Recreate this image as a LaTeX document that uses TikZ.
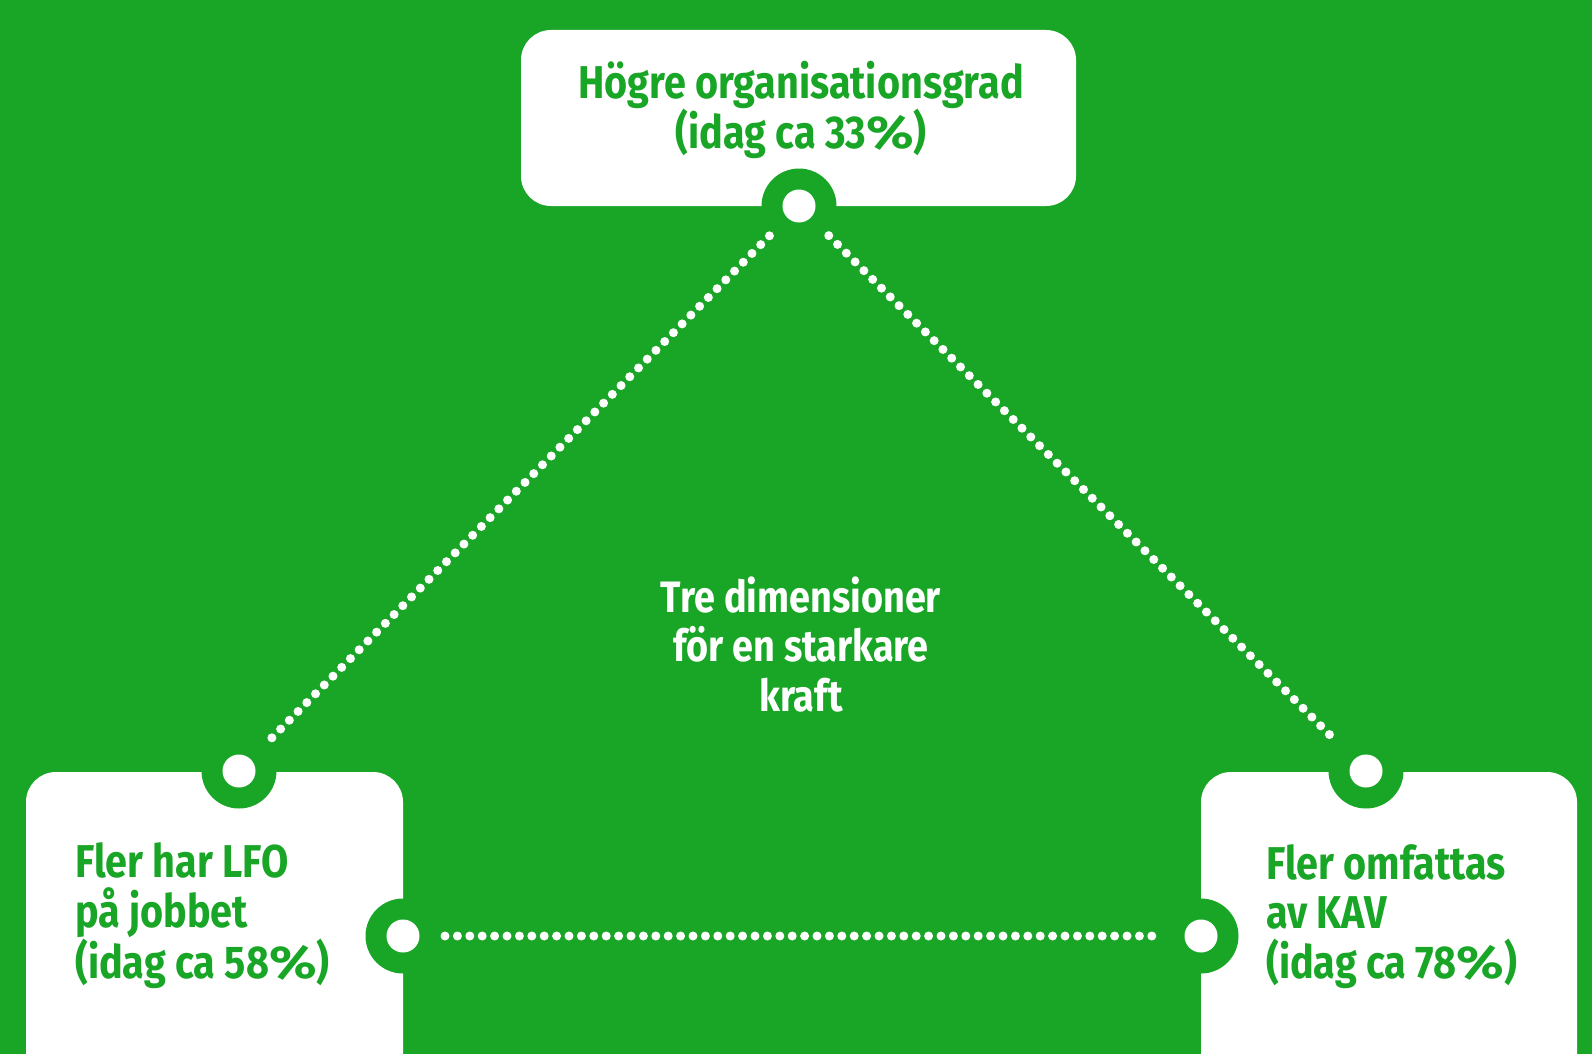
\documentclass[tikz,border=0pt]{standalone}
\usepackage{graphicx}
\usepackage{fontspec}
\newfontfamily\boxfont[FakeStretch=0.86]{Fira Sans Bold}
\newfontfamily\midfont[FakeStretch=0.86]{Fira Sans Bold}
\definecolor{lgreen}{RGB}{25,165,38}
\newcommand{\wpct}{\scalebox{1.4}[1]{\%}}
\begin{document}
\begin{tikzpicture}[x=1pt,y=-1pt,
  card/.style={fill=white, rounded corners=30pt, inner sep=0pt, draw=none},
  ring/.style={fill=lgreen, circle, minimum size=75pt, inner sep=0pt},
  hole/.style={fill=white, circle, minimum size=33pt, inner sep=0pt},
  boxtext/.style={text=lgreen, font=\boxfont\fontsize{46}{49.5}\selectfont, inner sep=0pt},
  midtext/.style={text=white, font=\midfont\fontsize{44}{49.5}\selectfont, inner sep=0pt, align=center},
  dots/.style={white, line width=9pt, line cap=round, dash pattern=on 0pt off 12.4pt, shorten <=42pt, shorten >=42pt}]
\useasboundingbox (0,0) rectangle (1592,1054);
\clip (0,0) rectangle (1592,1054);
\fill[lgreen] (0,0) rectangle (1592,1054);
% cards
\node[card, minimum width=555pt, minimum height=176pt] (top) at (798.5,118) {};
\node[card, minimum width=377pt, minimum height=330pt] (left) at (214.5,937) {};
\node[card, minimum width=376pt, minimum height=330pt] (right) at (1389,937) {};
% ring centres
\coordinate (rt) at (799,206);
\coordinate (rl1) at (239,771);
\coordinate (rl2) at (403,936);
\coordinate (rr1) at (1366,771);
\coordinate (rr2) at (1201,936);
\foreach \c in {rt,rl1,rl2,rr1,rr2}{
  \node[ring] (ring-\c) at (\c) {};
  \node[hole] (hole-\c) at (\c) {};
}
% dotted connectors
\draw[dots] (rt) -- (rl1);
\draw[dots] (rt) -- (rr1);
\draw[dots] (rl2) -- (rr2);
% texts
\node[boxtext, align=center, anchor=base] (ttop) at (801,149) {Högre organisationsgrad\\(idag ca 33\wpct)};
\node[boxtext, align=left, anchor=base west] (tleft) at (75,978) {Fler har LFO\\på jobbet\\(idag ca 58\wpct)};
\node[boxtext, align=left, anchor=base west] (tright) at (1266,978) {Fler omfattas\\av KAV\\(idag ca 78\wpct)};
\node[midtext, anchor=base] (tmid) at (801,711) {Tre dimensioner\\för en starkare\\kraft};
\end{tikzpicture}
\end{document}
